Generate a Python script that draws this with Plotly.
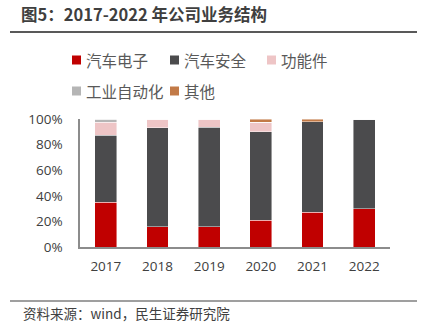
import plotly.graph_objects as go

years = ["2017", "2018", "2019", "2020", "2021", "2022"]
series_names = ["汽车电子", "汽车安全", "功能件", "工业自动化", "其他"]
auto_electronics = [0.35, 0.16, 0.16, 0.21, 0.27, 0.30]
auto_safety = [0.525, 0.77, 0.775, 0.69, 0.71, 0.70]
functional_parts = [0.10, 0.07, 0.065, 0.075, 0.0, 0.0]
industrial_auto = [0.025, 0.0, 0.0, 0.0, 0.0, 0.0]
others = [0.0, 0.0, 0.0, 0.025, 0.02, 0.0]
colors = ["#C00000", "#4B4B4D", "#EEC5C6", "#B5B5B5", "#C27A47"]
y_ticks = [0, 0.2, 0.4, 0.6, 0.8, 1.0]

values = [auto_electronics, auto_safety, functional_parts, industrial_auto, others]

W, H = 430, 327
L, R, T, B = 80, 40, 119, 80
PW, PH = W - L - R, H - T - B

def px(x):
    return (x - L) / PW

def py(y):
    return (H - B - y) / PH

fig = go.Figure()
for name, vals, c in zip(series_names, values, colors):
    fig.add_trace(go.Bar(
        x=years, y=vals, name=name, marker_color=c,
        marker_line=dict(color="rgba(255,255,255,0.55)", width=0.8),
        showlegend=False,
    ))

cjk = "Noto Sans CJK SC"
annotations = []
shapes = []

# manual legend
legend_pos = [(72, 60), (170, 60), (267, 60), (72, 91), (170, 91)]
for (lx, ly), name, c in zip(legend_pos, series_names, colors):
    shapes.append(dict(type="rect", xref="paper", yref="paper",
                       x0=px(lx), x1=px(lx + 9), y0=py(ly + 4.5), y1=py(ly - 4.5),
                       fillcolor=c, line=dict(width=0)))
    annotations.append(dict(text=name, xref="paper", yref="paper",
                            x=px(lx + 12), y=py(ly), xanchor="left", yanchor="middle",
                            showarrow=False,
                            font=dict(family=cjk, size=15.5, color="#595959")))

# title
annotations.append(dict(text="<b>图5：2017-2022 年公司业务结构</b>", xref="paper", yref="paper",
                        x=px(19), y=py(14), xanchor="left", yanchor="middle", showarrow=False,
                        font=dict(family=cjk, size=16.5, color="#3F3F3F")))
# source
annotations.append(dict(text="资料来源：wind，民生证券研究院", xref="paper", yref="paper",
                        x=px(21), y=py(313), xanchor="left", yanchor="middle", showarrow=False,
                        font=dict(family=cjk, size=13.5, color="#404040")))

shapes.append(dict(type="line", xref="paper", yref="paper",
                   x0=px(10), x1=px(417), y0=py(32), y1=py(32),
                   line=dict(color="#595959", width=2)))
shapes.append(dict(type="line", xref="paper", yref="paper",
                   x0=px(10), x1=px(417), y0=py(301), y1=py(301),
                   line=dict(color="#7F7F7F", width=1.5)))

fig.update_layout(
    width=W, height=H,
    margin=dict(l=L, r=R, t=T, b=B),
    barmode="stack", bargap=0.575,
    paper_bgcolor="white", plot_bgcolor="white",
    annotations=annotations, shapes=shapes,
    font=dict(family="Open Sans", color="#595959"),
    xaxis=dict(showline=True, linecolor="#8C8C8C", linewidth=1.5, ticks="",
               tickfont=dict(family="Open Sans", size=13.5, color="#404040"),
               ticklabelstandoff=6,
               range=[-0.5, 5.5], showgrid=False, zeroline=False, fixedrange=True),
    yaxis=dict(showline=True, linecolor="#8C8C8C", linewidth=1.5, ticks="",
               tickvals=y_ticks, tickformat=".0%", range=[0, 1],
               tickfont=dict(family="Open Sans", size=13.5, color="#404040"),
               ticklabelstandoff=13,
               showgrid=False, zeroline=False, fixedrange=True),
)

fig.write_html("out.html")
